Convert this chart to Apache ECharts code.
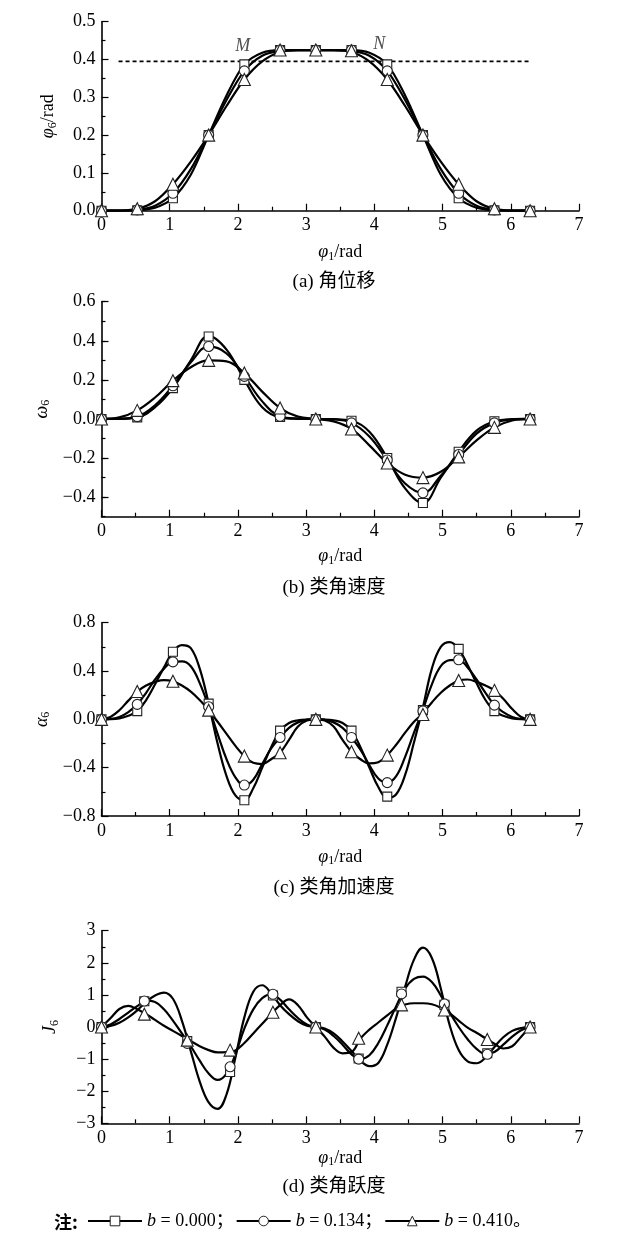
<!DOCTYPE html>
<html><head><meta charset="utf-8">
<script src="https://cdn.jsdelivr.net/npm/echarts@6/dist/echarts.min.js"></script>
<style>html,body{margin:0;padding:0;background:#fff}#c{width:636px;height:1237px}</style>
</head><body><div id="c"></div>
<script>
// ---------- data ----------
const bNames = ['b = 0.000；', 'b = 0.134；', 'b = 0.410。'];
const captions = ['(a) 角位移', '(b) 类角速度', '(c) 类角加速度', '(d) 类角跃度'];

const xCoarse = [0, 0.262, 0.524, 0.785, 1.047, 1.309, 1.571, 1.833, 2.094, 2.356, 2.618, 2.880, 3.142,
  3.403, 3.665, 3.927, 4.189, 4.451, 4.712, 4.974, 5.236, 5.498, 5.760, 6.021, 6.283];
const xFine = [0, 0.131, 0.262, 0.393, 0.524, 0.654, 0.785, 0.916, 1.047, 1.178, 1.309, 1.440, 1.571,
  1.702, 1.833, 1.963, 2.094, 2.225, 2.356, 2.487, 2.618, 2.749, 2.880, 3.011, 3.142,
  3.272, 3.403, 3.534, 3.665, 3.796, 3.927, 4.058, 4.189, 4.320, 4.451, 4.581, 4.712,
  4.843, 4.974, 5.105, 5.236, 5.367, 5.498, 5.629, 5.760, 5.890, 6.021, 6.152, 6.283];
const xMark6 = [0, 0.524, 1.047, 1.571, 2.094, 2.618, 3.142, 3.665, 4.189, 4.712, 5.236, 5.760, 6.283];
const xMark5 = [0, 0.628, 1.257, 1.885, 2.513, 3.142, 3.770, 4.398, 5.027, 5.655, 6.283];

// (a) angular displacement phi6
const phiB0 = [0, 0, 0.001, 0.008, 0.033, 0.095, 0.2, 0.305, 0.387, 0.418, 0.425, 0.425, 0.425, 0.425, 0.425, 0.418, 0.387, 0.305, 0.2, 0.095, 0.033, 0.008, 0.001, 0, 0];
const phiB1 = [0, 0, 0.002, 0.013, 0.046, 0.11, 0.2, 0.293, 0.37, 0.41, 0.423, 0.425, 0.425, 0.425, 0.423, 0.41, 0.37, 0.293, 0.2, 0.11, 0.046, 0.013, 0.002, 0, 0];
const phiB2 = [0, 0.0005, 0.005, 0.025, 0.07, 0.13, 0.2, 0.277, 0.347, 0.395, 0.42, 0.425, 0.425, 0.425, 0.42, 0.395, 0.347, 0.277, 0.2, 0.13, 0.07, 0.025, 0.005, 0.0005, 0];
const phiMk0 = [0, 0.001, 0.033, 0.2, 0.387, 0.425, 0.425, 0.425, 0.387, 0.2, 0.033, 0.001, 0];
const phiMk1 = [0, 0.002, 0.046, 0.2, 0.37, 0.425, 0.425, 0.425, 0.37, 0.2, 0.046, 0.002, 0];
const phiMk2 = [0, 0.005, 0.07, 0.2, 0.347, 0.425, 0.425, 0.423, 0.347, 0.2, 0.07, 0.005, 0];
const refLineX = [0.25, 6.3];
const refLineY = 0.395;
const pointNames = ['M', 'N'];
const pointX = [2.07, 4.07];
const pointY = [0.434, 0.441];

// (b) omega6
const omgB0 = [0, 0.0005, 0.008, 0.06, 0.158, 0.3, 0.425, 0.355, 0.2, 0.06, 0.008, 0.001, 0, -0.001, -0.009, -0.065, -0.2, -0.355, -0.43, -0.3, -0.168, -0.06, -0.012, -0.001, 0];
const omgB1 = [0, 0.001, 0.012, 0.07, 0.17, 0.29, 0.371, 0.335, 0.218, 0.09, 0.014, 0.002, 0, -0.002, -0.02, -0.09, -0.21, -0.33, -0.378, -0.29, -0.182, -0.075, -0.02, -0.002, 0];
const omgB2 = [0, 0.008, 0.044, 0.11, 0.196, 0.265, 0.30, 0.295, 0.235, 0.14, 0.056, 0.012, 0, -0.012, -0.051, -0.135, -0.225, -0.285, -0.30, -0.27, -0.194, -0.11, -0.043, -0.008, 0];
const omgMk0 = [0, 0.008, 0.158, 0.422, 0.20, 0.01, 0, -0.009, -0.2, -0.43, -0.168, -0.012, 0];
const omgMk1 = [0, 0.012, 0.17, 0.371, 0.218, 0.014, 0, -0.02, -0.21, -0.378, -0.182, -0.02, 0];
const omgMk2 = [0, 0.044, 0.196, 0.30, 0.235, 0.056, 0, -0.051, -0.225, -0.30, -0.194, -0.043, 0];

// (c) alpha6
const accB0 = [0, 0.001, 0.008, 0.03, 0.068, 0.16, 0.29, 0.43, 0.56, 0.615, 0.59, 0.42, 0.13, -0.2, -0.47, -0.63, -0.67, -0.57, -0.40, -0.23, -0.093, -0.03, -0.008, -0.001, 0,
  -0.001, -0.008, -0.03, -0.093, -0.23, -0.40, -0.56, -0.65, -0.62, -0.46, -0.19, 0.10, 0.42, 0.6, 0.64, 0.583, 0.45, 0.30, 0.16, 0.068, 0.03, 0.008, 0.001, 0];
const accB1 = [0, 0.003, 0.02, 0.06, 0.124, 0.22, 0.33, 0.42, 0.476, 0.48, 0.44, 0.3, 0.104, -0.12, -0.33, -0.48, -0.55, -0.5, -0.37, -0.24, -0.15, -0.07, -0.025, -0.005, 0,
  -0.005, -0.025, -0.07, -0.15, -0.25, -0.38, -0.49, -0.524, -0.47, -0.31, -0.11, 0.08, 0.29, 0.44, 0.49, 0.493, 0.43, 0.33, 0.22, 0.118, 0.06, 0.02, 0.003, 0];
const accB2 = [0, 0.02, 0.075, 0.155, 0.23, 0.28, 0.31, 0.325, 0.315, 0.28, 0.23, 0.16, 0.076, -0.02, -0.12, -0.22, -0.304, -0.36, -0.37, -0.33, -0.276, -0.17, -0.06, -0.01, 0,
  -0.01, -0.06, -0.17, -0.268, -0.33, -0.365, -0.355, -0.296, -0.21, -0.11, -0.02, 0.05, 0.14, 0.22, 0.28, 0.321, 0.33, 0.31, 0.28, 0.24, 0.17, 0.085, 0.02, 0];
const accMk0 = [0, 0.068, 0.56, 0.13, -0.67, -0.093, 0, -0.093, -0.64, 0.076, 0.583, 0.068, 0];
const accMk1 = [0, 0.124, 0.476, 0.104, -0.544, -0.15, 0, -0.15, -0.524, 0.07, 0.493, 0.118, 0];
const accMk2 = [0, 0.23, 0.315, 0.076, -0.304, -0.276, 0, -0.268, -0.296, 0.04, 0.321, 0.24, 0];

// (d) jerk J6
const jrkB0 = [0, 0.03, 0.13, 0.3, 0.52, 0.78, 0.98, 1.07, 0.88, 0.2, -0.75, -1.7, -2.35, -2.55, -2.1, -0.95, 0.3, 1.1, 1.3, 1.05, 0.68, 0.4, 0.18, 0.04, 0,
  -0.05, -0.2, -0.45, -0.75, -1.05, -1.22, -1.12, -0.55, 0.3, 1.25, 2.1, 2.47, 2.15, 1.2, 0.05, -0.72, -1.07, -1.13, -0.95, -0.62, -0.32, -0.12, -0.03, 0];
const jrkB1 = [0, 0.08, 0.25, 0.45, 0.65, 0.82, 0.78, 0.55, 0.2, -0.2, -0.6, -1.05, -1.45, -1.65, -1.45, -0.85, -0.05, 0.55, 0.9, 1.02, 0.85, 0.55, 0.28, 0.08, 0,
  -0.08, -0.28, -0.55, -0.85, -1.0, -0.88, -0.5, 0.05, 0.65, 1.2, 1.5, 1.57, 1.4, 0.98, 0.45, 0.0, -0.38, -0.68, -0.84, -0.78, -0.55, -0.3, -0.1, 0];
const jrkB2 = [0, 0.27, 0.56, 0.66, 0.55, 0.4, 0.22, 0.04, -0.12, -0.28, -0.44, -0.6, -0.72, -0.79, -0.78, -0.73, -0.5, -0.2, 0.1, 0.4, 0.68, 0.86, 0.68, 0.3, 0,
  -0.3, -0.65, -0.82, -0.78, -0.36, -0.08, 0.14, 0.36, 0.58, 0.7, 0.74, 0.74, 0.71, 0.6, 0.42, 0.2, -0.02, -0.18, -0.35, -0.52, -0.67, -0.6, -0.3, 0];
const jrkMk0 = [0, 0.8, -0.44, -1.40, 0.98, 0, -0.98, 1.10, 0.69, -0.82, 0];
const jrkMk1 = [0, 0.81, -0.51, -1.24, 1.02, 0, -1.0, 1.03, 0.72, -0.85, 0];
const jrkMk2 = [0, 0.40, -0.41, -0.72, 0.46, 0, -0.35, 0.69, 0.53, -0.39, 0];

// ---------- chart ----------
const SERIF = '"Liberation Serif", "Times New Roman", serif';
const MIXED = '"Liberation Serif", "Noto Sans CJK SC", serif';
const SYMS = ['rect', 'circle', 'triangle'];
const SYMSIZE = [9, 10, 12];
const pairs = (xs, ys) => xs.map((x, i) => [x, ys[i]]);
const minusFmt = d => v => (v < 0 ? '−' : '') + Math.abs(v).toFixed(d);

const nameRich = {
  v: { fontFamily: SERIF, fontStyle: 'italic', fontSize: 18, color: '#000', lineHeight: 20 },
  s: { fontFamily: SERIF, fontSize: 12, color: '#000', lineHeight: 9, verticalAlign: 'bottom' },
  r: { fontFamily: SERIF, fontSize: 18, color: '#000', lineHeight: 20 }
};
const tickLine = { color: '#000', width: 1.2 };

function xAx(i, gap) {
  return {
    type: 'value', gridIndex: i, min: 0, max: 7, interval: 1,
    axisLine: { onZero: false, lineStyle: { color: '#000', width: 1.6 } },
    axisTick: { inside: true, length: 7, lineStyle: tickLine },
    minorTick: { show: true, splitNumber: 2, length: 4, lineStyle: tickLine },
    splitLine: { show: false }, minorSplitLine: { show: false },
    axisLabel: { color: '#000', fontFamily: SERIF, fontSize: 18, margin: 6 },
    name: '{v|φ}{s|1}{r|/rad}', nameLocation: 'middle', nameGap: gap,
    nameTextStyle: { rich: nameRich }
  };
}
function yAx(i, min, max, interval, fmt, name, gap, extra) {
  return Object.assign({
    type: 'value', gridIndex: i, position: 'left', min, max, interval,
    axisLine: { onZero: false, lineStyle: { color: '#000', width: 1.6 } },
    axisTick: { inside: true, length: 7, lineStyle: tickLine },
    minorTick: { show: true, splitNumber: 2, length: 4, lineStyle: tickLine },
    splitLine: { show: false }, minorSplitLine: { show: false },
    axisLabel: { color: '#000', fontFamily: SERIF, fontSize: 18, margin: 6, formatter: fmt },
    name, nameLocation: 'middle', nameGap: gap, nameRotate: 90,
    nameTextStyle: { rich: nameRich }
  }, extra || {});
}

const yAxes = [
  yAx(0, 0, 0.5, 0.1, v => v.toFixed(1), '{v|φ}{s|6}{r|/rad}', 43),
  yAx(1, -0.5, 0.6, 0.1, minusFmt(1), '{v|ω}{s|6}', 43, {
    minorTick: { show: false },
    axisTick: { inside: true, length: 7, lineStyle: tickLine, customValues: [-0.4, -0.2, 0, 0.2, 0.4, 0.6] },
    axisLabel: { color: '#000', fontFamily: SERIF, fontSize: 18, margin: 6, formatter: minusFmt(1), customValues: [-0.4, -0.2, 0, 0.2, 0.4, 0.6] }
  }),
  yAx(2, -0.8, 0.8, 0.4, minusFmt(1), '{v|α}{s|6}', 43),
  yAx(3, -3, 3, 1, minusFmt(0), '{v|J}{s|6}', 41),
  // minor ticks for panel (b)
  {
    type: 'value', gridIndex: 1, position: 'left', min: -0.5, max: 0.6, interval: 0.1,
    axisLine: { show: false }, axisLabel: { show: false }, splitLine: { show: false },
    axisTick: { inside: true, length: 4, lineStyle: tickLine }
  }
];

const series = [];
const panels = [
  { x: xCoarse, curves: [phiB0, phiB1, phiB2], xm: xMark6, marks: [phiMk0, phiMk1, phiMk2], smooth: 0.3 },
  { x: xCoarse, curves: [omgB0, omgB1, omgB2], xm: xMark6, marks: [omgMk0, omgMk1, omgMk2], smooth: 0.4 },
  { x: xFine, curves: [accB0, accB1, accB2], xm: xMark6, marks: [accMk0, accMk1, accMk2], smooth: 0.4 },
  { x: xFine, curves: [jrkB0, jrkB1, jrkB2], xm: xMark5, marks: [jrkMk0, jrkMk1, jrkMk2], smooth: 0.4 }
];
panels.forEach((p, gi) => {
  p.curves.forEach((ys, k) => {
    series.push({
      type: 'line', name: gi === 3 ? bNames[k] : ('p' + gi + 'c' + k),
      xAxisIndex: gi, yAxisIndex: gi, data: pairs(p.x, ys),
      smooth: p.smooth, showSymbol: false, symbol: SYMS[k], symbolSize: SYMSIZE[k],
      lineStyle: { color: '#000', width: 2.2 },
      itemStyle: { color: '#fff', borderColor: '#222', borderWidth: 1 },
      silent: true, z: 2
    });
  });
});
panels.forEach((p, gi) => {
  p.marks.forEach((ys, k) => {
    series.push({
      type: 'scatter', name: 'p' + gi + 'm' + k,
      xAxisIndex: gi, yAxisIndex: gi, data: pairs(p.xm, ys),
      symbol: SYMS[k], symbolSize: SYMSIZE[k],
      itemStyle: { color: '#fff', borderColor: '#222', borderWidth: 1.1, opacity: 1 },
      silent: true, z: 3 + k
    });
  });
});
// dashed reference line and M/N labels in (a)
series.push({
  type: 'line', name: 'ref', xAxisIndex: 0, yAxisIndex: 0,
  data: refLineX.map(x => [x, refLineY]), showSymbol: false, symbol: 'none',
  lineStyle: { color: '#000', width: 1.6, type: [4, 3] }, silent: true, z: 1
});
series.push({
  type: 'scatter', name: 'MN', xAxisIndex: 0, yAxisIndex: 0, symbolSize: 0,
  data: pointNames.map((n, i) => ({ name: n, value: [pointX[i], pointY[i]] })),
  label: { show: true, position: 'inside', formatter: d => d.name, fontFamily: SERIF, fontStyle: 'italic', fontSize: 18, color: '#222' },
  silent: true, z: 6
});

const capY = [282, 588, 888, 1187];
const graphic = captions.map((t, i) => ({
  type: 'text', x: 334, y: capY[i], silent: true,
  style: { text: t, fontFamily: MIXED, fontSize: 19, fill: '#000', align: 'center', verticalAlign: 'middle' }
}));
graphic.push({
  type: 'text', x: 54, y: 1222, silent: true,
  style: { text: '注:', fontFamily: '"Noto Sans CJK SC", sans-serif', fontWeight: 'bold', fontSize: 18, fill: '#000', align: 'left', verticalAlign: 'middle' }
});

const option = {
  animation: false,
  backgroundColor: '#fff',
  grid: [
    { left: 101.5, top: 21.7, width: 477.5, height: 189, outerBoundsMode: 'none' },
    { left: 101.5, top: 301.7, width: 477.5, height: 215, outerBoundsMode: 'none' },
    { left: 101.5, top: 622.7, width: 477.5, height: 193.3, outerBoundsMode: 'none' },
    { left: 101.5, top: 930.7, width: 477.5, height: 192.6, outerBoundsMode: 'none' }
  ],
  xAxis: [xAx(0, 32), xAx(1, 30), xAx(2, 31), xAx(3, 25)],
  yAxis: yAxes,
  legend: {
    data: bNames, left: 87, top: 1212, padding: 0, itemWidth: 54, itemHeight: 12, itemGap: 2,
    selectedMode: false,
    itemStyle: { borderWidth: 1, borderColor: '#222', color: '#fff' },
    lineStyle: { color: '#000', width: 2 },
    formatter: n => '{i|b}' + n.slice(1),
    textStyle: { fontFamily: MIXED, fontSize: 18, color: '#000', rich: { i: { fontFamily: SERIF, fontStyle: 'italic', fontSize: 18, color: '#000' } } }
  },
  graphic,
  series
};
const chart = echarts.init(document.getElementById('c'));
chart.setOption(option);
</script></body></html>
